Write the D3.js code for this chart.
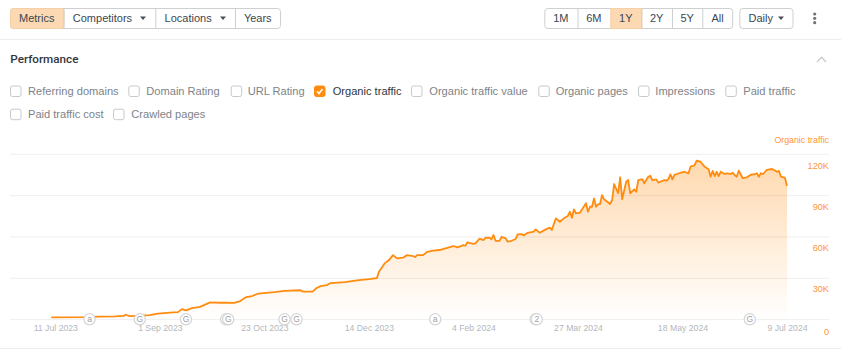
<!DOCTYPE html>
<html><head><meta charset="utf-8">
<script src="https://cdn.jsdelivr.net/npm/d3@7/dist/d3.min.js"></script>
<style>
html,body{margin:0;padding:0;background:#fff;overflow:hidden}
svg{display:block}
text{font-family:"Liberation Sans",Arial,sans-serif}
</style></head><body>
<svg id="c" width="844" height="357"></svg>
<script>
const startDate = "2023-07-09";
const dayOffsets = [0,17,24,32,36,37,39,42,49,53,59,63,65,67,70,74,79,84,87,91,94,97,100,103,111,116,124,125,130,132,134,137,139,146,153,158,162,163,166,168,170,172,175,177,180,181,182,185,187,190,193,197,200,202,205,206,207,210,211,213,215,216,218,219,220,221,223,224,226,227,229,231,232,234,235,237,240,241,243,246,248,249,251,253,255,257,258,259,260,261,263,266,267,268,269,270,271,272,273,274,275,278,279,280,282,283,284,286,287,288,290,291,292,294,295,297,298,299,301,302,305,306,307,308,309,310,313,315,317,318,320,321,323,325,327,328,329,330,331,332,333,335,336,338,339,340,341,342,344,346,348,350,351,352,353,354,356,358,359,361,362,363,365,366];
const organicTraffic = [1450,1600,2000,2100,2500,3300,2300,2500,3000,4100,4900,5200,7400,6500,8100,9000,12300,12000,12100,11900,13200,16100,16900,18700,19800,20700,21100,20100,20100,22700,24100,24800,26300,27000,28500,29200,29900,34500,40800,43000,46600,44200,44700,46600,45900,45200,46600,46600,49000,49800,50300,51900,53200,52200,53900,53400,55900,54800,55100,58500,57500,59200,59200,58000,61200,57000,57000,59900,58800,56300,57000,58300,61700,61900,60900,62800,63600,65300,62800,65300,66500,64800,73300,70800,73300,75000,78100,73700,79800,76900,77400,84200,78100,81700,81700,87800,81700,83500,83700,90200,87100,83700,86600,98200,91500,103100,87100,99900,101100,91500,94400,92600,101100,101800,98700,103500,104200,101100,101600,99200,101100,100600,101800,105300,101600,104800,106400,107100,106000,110800,111800,115100,114400,110800,108900,103500,107700,104000,107100,104000,107100,105500,106000,105500,106400,104700,103500,107900,102400,103100,105000,105300,106000,103500,106000,105300,108400,109100,108900,107100,107700,103500,102600,96800];
const xTickDates = ["2023-07-11","2023-09-01","2023-10-23","2023-12-14","2024-02-04","2024-03-27","2024-05-18","2024-07-09"];
const yTicks = [0,30000,60000,90000,120000];
const annotationDays = [19,44,67,87,88,116,122,191,241,241.5,347.5];
const annotationLabels = ["a","G","G",null,"G","G","G","a",null,"2","G"];
const leftButtons = ["Metrics","Competitors","Locations","Years"];
const rangeButtons = ["1M","6M","1Y","2Y","5Y","All"];
const metricsRow1 = ["Referring domains","Domain Rating","URL Rating","Organic traffic","Organic traffic value","Organic pages","Impressions","Paid traffic"];
const metricsRow2 = ["Paid traffic cost","Crawled pages"];
const seriesName = "Organic traffic";

const svg = d3.select("#c");
const C = {line:"#ff8c0f", active:"#fdd9b3", border:"#cfcfcf", ink:"#3c4650", muted:"#7d8389", tick:"#b4b7bb", axis:"#ff9636", grid:"rgba(0,0,0,.065)"};

// ---------- toolbar ----------
function buttonGroup(labels, edges, activeLabel, carets){
  const g = svg.append("g");
  g.append("rect").attr("x",edges[0]+.5).attr("y",8.5).attr("width",edges[edges.length-1]-edges[0]-.5).attr("height",20)
    .attr("rx",3).attr("fill","#fff").attr("stroke",C.border);
  labels.forEach((l,i)=>{
    const x0=edges[i], x1=edges[i+1];
    if(l===activeLabel){
      g.append("rect").attr("x",x0+.5).attr("y",8.5).attr("width",x1-x0).attr("height",20)
       .attr("rx",i===0?3:0).attr("fill",C.active).attr("stroke","#f5cfa5");
    }
    if(i>0 && l!==activeLabel) g.append("line").attr("x1",x0+.5).attr("x2",x0+.5).attr("y1",9).attr("y2",28).attr("stroke",C.border);
    const hasCaret = carets && carets[l];
    g.append("text").text(l).attr("x",hasCaret?x0+9.3:(x0+x1)/2).attr("y",22.2)
     .attr("text-anchor",hasCaret?"start":"middle").attr("font-size",11).attr("fill",C.ink);
    if(hasCaret) caret(g,carets[l],18.3);
  });
  return g;
}
function caret(g,x,y){
  g.append("path").attr("d",d3.line()([[x-3,y-1.8],[x+3,y-1.8],[x,y+1.8]])+"Z").attr("fill","#4a4f55");
}
buttonGroup(leftButtons,[10,63.5,155.3,235,280.5],"Metrics",{Competitors:143,Locations:223});
buttonGroup(rangeButtons,[544.3,577.5,610.3,641.3,672,702.3,732.7],"1Y");
const dailyG = buttonGroup(["Daily"],[739.3,793],null,null);
dailyG.select("text").attr("x",748.5).attr("text-anchor","start");
caret(svg,781,18.3);
[14,18.3,22.7].forEach(y=>svg.append("circle").attr("cx",814.7).attr("cy",y).attr("r",1.6).attr("fill","#70757a"));

svg.append("line").attr("x1",0).attr("x2",841).attr("y1",39.5).attr("y2",39.5).attr("stroke","#ececec");
svg.append("line").attr("x1",0).attr("x2",841).attr("y1",348.5).attr("y2",348.5).attr("stroke","#ececec");

svg.append("text").text("Performance").attr("x",10.3).attr("y",63).attr("font-size",11.7)
  .style("font-family","Roboto").attr("font-weight",500).attr("fill","#2f363d");
svg.append("path").attr("d",d3.line()([[817,62],[821.5,57.3],[826,62]])).attr("fill","none").attr("stroke","#c8cbce").attr("stroke-width",1.3);

// ---------- checkboxes ----------
function checks(labels,boxX,textX,y,checkedLabel){
  labels.forEach((l,i)=>{
    const on=l===checkedLabel;
    svg.append("rect").attr("x",boxX[i]+.5).attr("y",y+.5).attr("width",10.5).attr("height",10.5).attr("rx",2)
      .attr("fill",on?C.line:"#fff").attr("stroke",on?C.line:"#c6c9cc");
    if(on) svg.append("path").attr("d",d3.line()([[boxX[i]+3,y+5.8],[boxX[i]+5,y+8],[boxX[i]+8.5,y+3.5]]))
      .attr("fill","none").attr("stroke","#fff").attr("stroke-width",1.5);
    svg.append("text").text(l).attr("x",textX[i]).attr("y",y+9.6).attr("font-size",11.1)
      .attr("fill",on?"#2f363d":C.muted);
  });
}
checks(metricsRow1,[10,128.3,230.7,314,411,538.3,638,725.3],[28,146.3,247.7,332.7,429.3,555.7,655.3,743.3],85.5,seriesName);
checks(metricsRow2,[10,113],[28,131.3],108.7,null);

// ---------- chart ----------
const parse=d3.utcParse("%Y-%m-%d");
const t0=parse(startDate);
const x=d3.scaleUtc().domain([t0,parse("2024-07-09")]).range([51.3,787]);
const y=d3.scaleLinear().domain([0,120000]).range([319.3,154]);
const gridL=10, gridR=829;

const defs=svg.append("defs");
const grad=defs.append("linearGradient").attr("id","fill").attr("gradientUnits","userSpaceOnUse")
  .attr("x1",0).attr("x2",0).attr("y1",y(115100)).attr("y2",y(0));
grad.append("stop").attr("offset",0).attr("stop-color","#ff8c0f").attr("stop-opacity",.33);
grad.append("stop").attr("offset",1).attr("stop-color","#ff8c0f").attr("stop-opacity",0);

const data=dayOffsets.map((d,i)=>({date:d3.utcDay.offset(t0,d),v:organicTraffic[i]}));

svg.append("path").datum(data).attr("fill","url(#fill)")
  .attr("d",d3.area().x(d=>x(d.date)).y0(y(0)).y1(d=>y(d.v)));

const yAxis=d3.axisRight(y).tickValues(yTicks).tickSize(0).tickFormat(d=>d===0?"0":d3.format("d")(d/1000)+"K");
const yg=svg.append("g").attr("transform",`translate(${gridR},0)`).call(yAxis);
yg.select(".domain").remove();
yg.selectAll(".tick").insert("line",":first-child").attr("x1",gridL-gridR).attr("x2",0).attr("y1",-.2).attr("y2",-.2).attr("stroke",C.grid);
yg.selectAll("text").attr("x",0).attr("dy",0).attr("y",d=>d===0?15:14).attr("text-anchor","end")
  .attr("font-size",9.2).attr("fill",C.axis).style("font-family","'Liberation Sans'");

const line=d3.line().x(d=>x(d.date)).y(d=>y(d.v));
svg.append("path").datum(data).attr("fill","none").attr("stroke",C.line).attr("stroke-width",1.8)
  .attr("stroke-linejoin","round").attr("d",line);

const xAxis=d3.axisBottom(x).tickValues(xTickDates.map(parse)).tickSize(0).tickFormat(d3.utcFormat("%-d %b %Y"));
const xg=svg.append("g").attr("transform","translate(0,322)").call(xAxis);
xg.select(".domain").remove();
xg.selectAll("text").attr("y",0).attr("dy","9.2").attr("font-size",8.7).attr("fill",C.tick).style("font-family","'Liberation Sans'");

annotationDays.forEach((d,i)=>{
  const px=x(d3.utcHour.offset(t0,d*24));
  const g=svg.append("g").attr("transform",`translate(${px},319.3)`);
  g.append("circle").attr("r",5.6).attr("fill","#fff").attr("stroke","#d6d6d6").attr("stroke-width",1.3);
  if(annotationLabels[i]) g.append("text").text(annotationLabels[i]).attr("text-anchor","middle").attr("y",3).attr("font-size",8.5).attr("fill","#a0a0a0");
});

svg.append("text").text(seriesName).attr("x",gridR).attr("y",143).attr("text-anchor","end").attr("font-size",8.8).attr("fill",C.axis);
</script>
</body></html>
